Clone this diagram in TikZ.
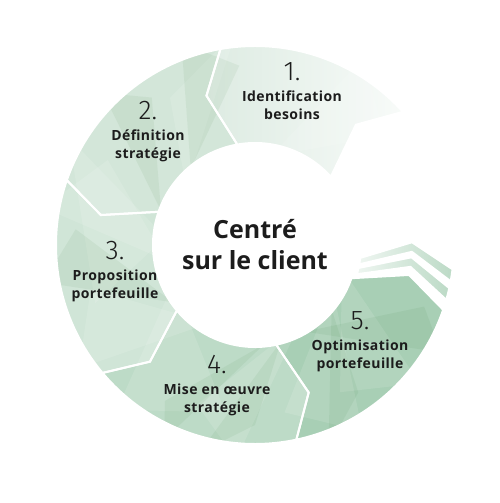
\documentclass[tikz,border=0pt]{standalone}
\usepackage{fontspec}
\setmainfont{Open Sans}
\newfontfamily\labelfont{Open Sans}[LetterSpace=3]
\newfontfamily\numfont{Fira Sans Light}
\usetikzlibrary{positioning}
\definecolor{segone}{HTML}{DDEBE2}
\definecolor{segonefade}{HTML}{F8FBF9}
\definecolor{segtwo}{HTML}{D3E6D9}
\definecolor{segthree}{HTML}{D0E5D7}
\definecolor{segfour}{HTML}{BDDBC7}
\definecolor{segfive}{HTML}{A8CFB5}
\definecolor{stripecol}{HTML}{BCDAC6}
\definecolor{inktext}{HTML}{1C1C1C}
% one chevron-shaped piece of the ring, from angle #1 to angle #2
\newcommand{\ringseg}[2]{(#1:199) arc[start angle=#1, end angle=#2, radius=199]
  -- ({#2+8}:157) -- (#2:102) arc[start angle=#2, end angle=#1, radius=102]
  -- ({#1+8}:157) -- cycle}
% a thin chevron strip ahead of the last piece
\newcommand{\ringstripe}[2]{(#1:199) -- ({#1+8}:157) -- (#1:106)
  arc[start angle=#1, end angle=#2, radius=106] -- ({#2+8}:157) -- (#2:199)
  arc[start angle=#2, end angle=#1, radius=199] -- cycle}
\tikzset{
  stepnum/.style={font=\numfont\fontsize{27}{27}\selectfont, text=inktext, inner sep=0pt},
  steplabel/.style={font=\labelfont\bfseries\fontsize{14}{18}\selectfont, align=center,
    text=inktext, inner sep=0pt},
  segedge/.style={draw=white, line width=2pt, line join=miter},
  facet/.style={fill=white, fill opacity=0.12},
  darkfacet/.style={fill=green!35!black, fill opacity=0.05}
}
\begin{document}
\begin{tikzpicture}[x=1pt, y=1pt]
  \useasboundingbox (-255,-258) rectangle (245,245);
  % ring pieces
  \shade[left color=segone, right color=segonefade] \ringseg{42}{100};
  \fill[segtwo] \ringseg{100}{161};
  \fill[segthree] \ringseg{161}{220};
  \fill[segfour] \ringseg{220}{282};
  \fill[segfive] \ringseg{282}{341};
  \shade[left color=stripecol!25!white, right color=stripecol] \ringstripe{344}{347.5};
  \shade[left color=stripecol!25!white, right color=stripecol] \ringstripe{349.5}{353};
  % facets
  \begin{scope}
    \clip \ringseg{42}{100} \ringseg{100}{161} \ringseg{161}{220}
      \ringseg{220}{282} \ringseg{282}{341};
    \foreach \p/\q/\s in {95/140/120, 150/175/200, 230/205/260, 265/300/250,
        300/330/280, 60/80/40, 170/190/150, 320/345/300, 215/240/195}
      \fill[facet] (\p:215) -- (\q:90) -- (\s:170) -- cycle;
    \foreach \p/\q/\s in {110/130/95, 190/215/175, 245/275/240, 290/320/305,
        330/300/340, 135/160/125, 255/285/270}
      \fill[darkfacet] (\p:215) -- (\q:100) -- (\s:180) -- cycle;
  \end{scope}
  % white seams
  \foreach \a/\b in {42/100, 100/161, 161/220, 220/282, 282/341}
    \draw[segedge] \ringseg{\a}{\b};
  \draw[segedge] \ringstripe{344}{347.5};
  \draw[segedge] \ringstripe{349.5}{353};
  % texts
  \node[font=\bfseries\fontsize{25}{31}\selectfont, align=center, text=inktext]
    (centre) at (0,0) {Centré\\sur le client};
  \node[stepnum] (n1) at (37,173) {1.};
  \node[stepnum] (n2) at (-107,134) {2.};
  \node[stepnum] (n3) at (-140,-6) {3.};
  \node[stepnum] (n4) at (-38,-120) {4.};
  \node[stepnum] (n5) at (105,-76) {5.};
  \node[steplabel, below=9pt of n1] (l1) {Identification\\besoins};
  \node[steplabel, below=9pt of n2] (l2) {Définition\\stratégie};
  \node[steplabel, below=9pt of n3] (l3) {Proposition\\portefeuille};
  \node[steplabel, below=9pt of n4] (l4) {Mise en œuvre\\stratégie};
  \node[steplabel, below=9pt of n5] (l5) {Optimisation\\portefeuille};
\end{tikzpicture}
\end{document}
